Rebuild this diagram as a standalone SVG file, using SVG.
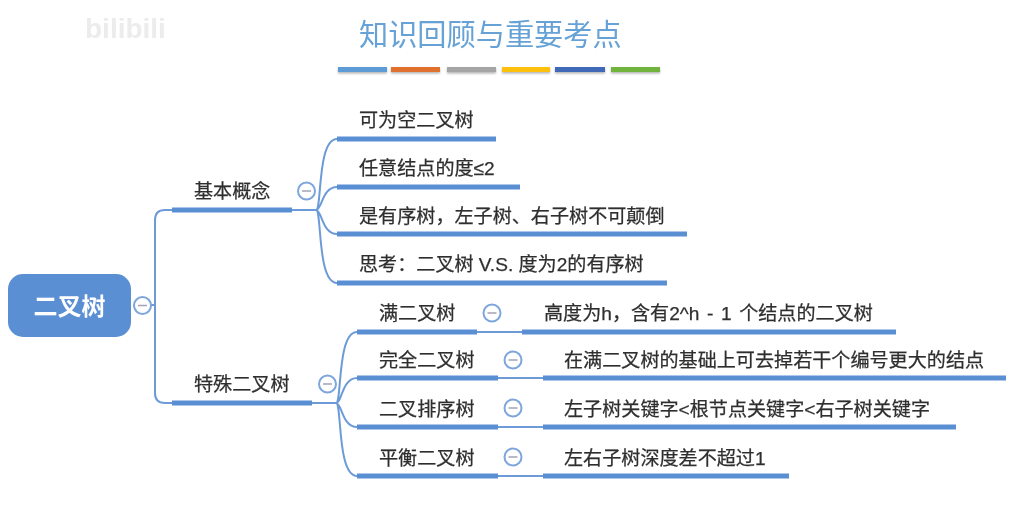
<svg xmlns="http://www.w3.org/2000/svg" width="1024" height="510" viewBox="0 0 1024 510">
<defs>
<filter id="blur" x="-5%" y="-50%" width="110%" height="200%"><feGaussianBlur stdDeviation="0.45"/></filter>
<filter id="shadow" x="-5%" y="-100%" width="110%" height="400%"><feDropShadow dx="0" dy="1.5" stdDeviation="1" flood-color="#000" flood-opacity="0.3"/></filter>
</defs>
<style>
text{font-family:"Liberation Sans","Noto Sans CJK SC",sans-serif;fill:#2f2f2f;stroke:#2f2f2f;stroke-width:.25;font-size:19.100px;filter:url(#blur)}
.bar{stroke:#5b8fd3;stroke-width:5;fill:none}
.thin{stroke:#6d9bd8;stroke-width:2;fill:none}
.c{fill:#fff;stroke:#7ea6dc;stroke-width:2}
.m{stroke:#a3a3b5;stroke-width:1.5}
.deco{filter:url(#shadow)}
</style>
<rect width="1024" height="510" fill="#fff"/>
<g id="watermark">
<text x="85" y="38" style="font-size:28px;font-weight:bold;fill:#ececec;stroke:none">bilibili</text>
</g>
<g id="title">
<text x="359" y="45" style="font-size:29.200px;fill:#66a2d6;stroke:none">知识回顾与重要考点</text>
<g class="deco">
<rect x="338" y="67" width="49" height="5" fill="#5b9bd5"/>
<rect x="391" y="67" width="49" height="5" fill="#e0702f"/>
<rect x="447" y="67" width="49" height="5" fill="#a5a5a5"/>
<rect x="502" y="67" width="48" height="5" fill="#fcc00a"/>
<rect x="555" y="67" width="50" height="5" fill="#4169b8"/>
<rect x="611" y="67" width="49" height="5" fill="#6fb33e"/>
</g>
</g>
<g id="connectors">
<path class="thin" d="M155 305H150M172 210H165Q155 210 155 220V393Q155 403 165 403H172"/>
<path class="thin" d="M292 210H316M316 210C322 210 317 139 337 139M316 210C322 210 322 187 337 187M316 210C322 210 322 234 337 234M316 210C322 210 317 283 337 283"/>
<path class="thin" d="M312 403H336M336 403C342 403 337 332 357 332M336 403C342 403 342 378 357 378M336 403C342 403 342 427 357 427M336 403C342 403 337 476 357 476"/>
<path class="thin" d="M477 332H522M498 378H543M498 427H543M498 476H543"/>
</g>
<g id="root">
<rect x="8" y="274" width="123" height="63" rx="15" fill="#5b8fd3"/>
<text x="69.500" y="315" text-anchor="middle" style="font-size:24px;font-weight:bold;fill:#fff;stroke:none">二叉树</text>
</g>
<g id="root-toggle"><circle class="c" cx="142.500" cy="305.500" r="8.500"/><path class="m" d="M138 305.500H147"/></g>
<g id="n-basic">
<text x="194" y="198">基本概念</text>
<path class="bar" d="M172 210H292"/>
<circle class="c" cx="306.500" cy="191" r="8.500"/><path class="m" d="M302 191H311"/>
</g>
<g id="n-special">
<text x="194" y="391">特殊二叉树</text>
<path class="bar" d="M172 403H312"/>
<circle class="c" cx="327.500" cy="384" r="8.500"/><path class="m" d="M323 384H332"/>
</g>
<g id="n-empty"><text x="359" y="127">可为空二叉树</text><path class="bar" d="M337 139H496"/></g>
<g id="n-degree"><text x="359" y="175">任意结点的度≤2</text><path class="bar" d="M337 187H520"/></g>
<g id="n-ordered"><text x="359" y="223">是有序树，左子树、右子树不可颠倒</text><path class="bar" d="M337 234H687"/></g>
<g id="n-think"><text x="359" y="271">思考：二叉树 V.S. 度为2的有序树</text><path class="bar" d="M337 283H667"/></g>
<g id="n-full">
<text x="379" y="320">满二叉树</text><path class="bar" d="M357 332H477"/>
<circle class="c" cx="492" cy="313" r="8.500"/><path class="m" d="M487.500 313H496.500"/>
</g>
<g id="n-full-d"><text x="544" y="320" style="word-spacing:2.300px">高度为h，含有2^h - 1 个结点的二叉树</text><path class="bar" d="M522 332H896"/></g>
<g id="n-complete">
<text x="379" y="367">完全二叉树</text><path class="bar" d="M357 378H498"/>
<circle class="c" cx="513" cy="360" r="8.500"/><path class="m" d="M508.500 360H517.500"/>
</g>
<g id="n-complete-d"><text x="564" y="367">在满二叉树的基础上可去掉若干个编号更大的结点</text><path class="bar" d="M543 378H1006"/></g>
<g id="n-bst">
<text x="379" y="416">二叉排序树</text><path class="bar" d="M357 427H498"/>
<circle class="c" cx="513" cy="408" r="8.500"/><path class="m" d="M508.500 408H517.500"/>
</g>
<g id="n-bst-d"><text x="564" y="416">左子树关键字&lt;根节点关键字&lt;右子树关键字</text><path class="bar" d="M543 427H956"/></g>
<g id="n-avl">
<text x="379" y="465">平衡二叉树</text><path class="bar" d="M357 476H498"/>
<circle class="c" cx="513" cy="457" r="8.500"/><path class="m" d="M508.500 457H517.500"/>
</g>
<g id="n-avl-d"><text x="564" y="465">左右子树深度差不超过1</text><path class="bar" d="M543 476H789"/></g>
</svg>
